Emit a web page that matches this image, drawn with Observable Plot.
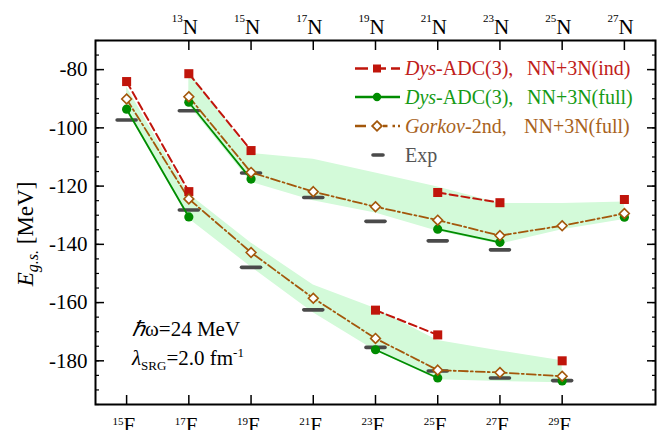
<!DOCTYPE html>
<html><head><meta charset="utf-8">
<script src="https://cdn.jsdelivr.net/npm/d3@7"></script>
<script src="https://cdn.jsdelivr.net/npm/@observablehq/plot@0.6"></script>
<style>body{margin:0;background:#fff} #chart svg{display:block} #chart svg text{font-family:'Liberation Serif','Times New Roman',serif}</style>
</head><body><div id="chart"></div><script>
// ---- data ----
const fPos  = [0, 1, 2, 3, 4, 5, 6, 7];
const fMass = ["15","17","19","21","23","25","27","29"];
const nPos  = [1, 2, 3, 4, 5, 6, 7, 8];
const nMass = ["13","15","17","19","21","23","25","27"];

// Fluorine chain (15F..29F)
const fInd    = [-84.1, -121.9, null, null, -162.6, -171.1, null, -180.0];
const fFull   = [-93.6, -130.6, null, null, -176.2, -185.9, null, -186.9];
const fGork   = [-90.1, -124.4, -142.8, -158.5, -172.3, -183.2, -184.0, -185.3];
const fExp    = [-97.3, -128.2, -147.9, -162.5, -175.4, -183.5, -185.9, -186.8];
const fBandHi = [-86.0, -122.7, -139.5, -154.0, -162.0, -173.0, -176.6, -180.0];
const fBandLo = [-94.0, -131.2, -147.8, -163.5, -176.5, -186.5, -187.1, -187.5];

// Nitrogen chain (13N..27N)
const nInd    = [-81.4, -107.8, null, null, -122.2, -125.7, null, -124.6];
const nFull   = [-91.2, -117.6, null, null, -134.8, -139.3, null, -130.7];
const nGork   = [-89.3, -115.3, -121.9, -127.1, -131.7, -137.0, -133.6, -129.4];
const nExp    = [-94.1, -115.5, -123.9, -132.1, -138.8, -141.9, null, null];
const nBandHi = [-80.5, -108.8, -110.8, -115.5, -120.3, -126.0, -126.0, -125.5];
const nBandLo = [-92.2, -118.7, -125.0, -129.2, -135.5, -140.0, -135.0, -131.5];

const yMajor = [-180, -160, -140, -120, -100, -80];
const yMinor = d3.range(-195, -69, 5);

const legendItalic = ["Dys", "Dys", "Gorkov", ""];
const legendRest   = ["-ADC(3),", "-ADC(3),", "-2nd,", "Exp"];
const legendTail   = ["NN+3N(ind)", "NN+3N(full)", "NN+3N(full)", ""];

// ---- styles ----
const serif = "'Liberation Serif','Times New Roman',serif";
const C = {ind: "#c0150b", full: "#008c00", gork: "#a3570b", exp: "#4a4a4a", band: "#d3fad9"};
const T = {ind: "#c0201a", full: "#159a15", gork: "#a8621c", exp: "#555555"};

const fRows = fPos.map((x, i) => ({x, ind: fInd[i], full: fFull[i], gork: fGork[i], exp: fExp[i], hi: fBandHi[i], lo: fBandLo[i]}));
const nRows = nPos.map((x, i) => ({x, ind: nInd[i], full: nFull[i], gork: nGork[i], exp: nExp[i], hi: nBandHi[i], lo: nBandLo[i]}));

const expSymbol = {draw(ctx) { ctx.moveTo(-9.5, 0); ctx.lineTo(9.5, 0); }};

function chainMarks(rows) {
  return [
    Plot.dot(rows, {x: "x", y: "exp", symbol: expSymbol, stroke: C.exp, strokeWidth: 3.6, fill: "none", strokeLinecap: "round"}),
    Plot.line(rows, {x: "x", y: "ind", stroke: C.ind, strokeWidth: 2, strokeDasharray: "8,4"}),
    Plot.line(rows, {x: "x", y: "full", stroke: C.full, strokeWidth: 1.8}),
    Plot.line(rows, {x: "x", y: "gork", stroke: C.gork, strokeWidth: 1.8, strokeDasharray: "9,3,2,3"}),
    Plot.dot(rows, {x: "x", y: "ind", symbol: "square", r: 5.1, fill: C.ind, stroke: null}),
    Plot.dot(rows, {x: "x", y: "full", symbol: "circle", r: 4.6, fill: C.full, stroke: null}),
    Plot.dot(rows, {x: "x", y: "gork", symbol: "diamond2", r: 4.4, fill: "white", stroke: C.gork, strokeWidth: 1.6})
  ];
}

const plot = Plot.plot({
  width: 668, height: 430,
  marginLeft: 95, marginRight: 13, marginTop: 40, marginBottom: 26,
  style: {fontFamily: serif, background: "white", color: "black", overflow: "visible"},
  x: {domain: [-0.5, 8.5], label: null},
  y: {domain: [-195, -70], label: null},
  marks: [
    Plot.areaY(fRows, {x: "x", y1: "lo", y2: "hi", fill: C.band}),
    Plot.areaY(nRows, {x: "x", y1: "lo", y2: "hi", fill: C.band}),
    ...chainMarks(fRows),
    ...chainMarks(nRows),
    Plot.frame({stroke: "black", strokeWidth: 2}),
    Plot.axisY({anchor: "left", ticks: yMajor, tickSize: 0, tickPadding: 8, tickFormat: d => String(d), fontSize: 21, fontFamily: serif, label: null}),
    Plot.axisY({anchor: "left", ticks: yMajor, tickSize: -9, strokeWidth: 1.5, tickFormat: () => "", label: null}),
    Plot.axisY({anchor: "left", ticks: yMinor, tickSize: -4, strokeWidth: 1.2, tickFormat: () => "", label: null}),
    Plot.axisY({anchor: "right", ticks: yMajor, tickSize: -9, strokeWidth: 1.5, tickFormat: () => "", label: null}),
    Plot.axisY({anchor: "right", ticks: yMinor, tickSize: -4, strokeWidth: 1.2, tickFormat: () => "", label: null}),
    Plot.axisX({anchor: "top", ticks: nPos, tickSize: -9, strokeWidth: 1.5, tickFormat: () => "", label: null}),
    Plot.axisX({anchor: "bottom", ticks: fPos, tickSize: -9, strokeWidth: 1.5, tickFormat: () => "", label: null}),
    Plot.text(nPos, {x: d => d, text: () => "N", frameAnchor: "top", textAnchor: "start", lineAnchor: "bottom", dx: -6, dy: -7, fontSize: 21, fontFamily: serif}),
    Plot.text(nPos, {x: d => d, text: (d, i) => nMass[i], frameAnchor: "top", textAnchor: "end", lineAnchor: "bottom", dx: -6, dy: -19, fontSize: 11, fontFamily: serif}),
    Plot.text(fPos, {x: d => d, text: () => "F", frameAnchor: "bottom", textAnchor: "start", lineAnchor: "bottom", dx: -3, dy: 27, fontSize: 21, fontFamily: serif}),
    Plot.text(fPos, {x: d => d, text: (d, i) => fMass[i], frameAnchor: "bottom", textAnchor: "end", lineAnchor: "bottom", dx: -3, dy: 20, fontSize: 11, fontFamily: serif})
  ]
});

document.getElementById("chart").appendChild(plot);
const svg = d3.select(plot);

// y-axis title
const yl = svg.append("text").attr("transform", "translate(33,234) rotate(-90)")
  .attr("text-anchor", "middle").style("font-family", serif).style("font-size", "23px").attr("fill", "black");
yl.append("tspan").attr("font-style", "italic").text("E");
yl.append("tspan").attr("font-style", "italic").attr("font-size", "16px").attr("dy", 5).text("g.s.");
yl.append("tspan").attr("dy", -5).text(" [MeV]");

// annotations
const a1 = svg.append("text").attr("x", 132).attr("y", 336).attr("text-anchor", "start").style("font-family", serif).style("font-size", "21px").attr("fill", "black");
a1.append("tspan").attr("font-style", "italic").text("ℏ");
a1.append("tspan").text("ω=24 MeV");
const a2 = svg.append("text").attr("x", 132).attr("y", 365).attr("text-anchor", "start").style("font-family", serif).style("font-size", "21px").attr("fill", "black");
a2.append("tspan").attr("font-style", "italic").text("λ");
a2.append("tspan").attr("font-size", "13px").attr("dy", 5).text("SRG");
a2.append("tspan").attr("dy", -5).text("=2.0 fm");
a2.append("tspan").attr("font-size", "13px").attr("dy", -8).text("-1");

// legend
const lgY = [68.5, 97, 126, 155];
const lgColor = [C.ind, C.full, C.gork, C.exp];
const lgText = [T.ind, T.full, T.gork, T.exp];
const lgDash = ["13,5", null, "11,5,2.5,3", null];
const lg = svg.append("g").attr("text-anchor", "start").style("font-family", serif).style("font-size", "20px");
[0, 1, 2].forEach(i => {
  lg.append("line").attr("x1", 355).attr("x2", 400).attr("y1", lgY[i]).attr("y2", lgY[i])
    .attr("stroke", lgColor[i]).attr("stroke-width", 2.4).attr("stroke-dasharray", lgDash[i]);
});
lg.append("path").attr("d", d3.symbol(d3.symbolSquare, 64)()).attr("transform", `translate(377,${lgY[0]})`).attr("fill", C.ind);
lg.append("path").attr("d", d3.symbol(d3.symbolCircle, 55)()).attr("transform", `translate(377,${lgY[1]})`).attr("fill", C.full);
lg.append("rect").attr("x", 371).attr("y", lgY[2] - 6).attr("width", 12).attr("height", 12).attr("fill", "white");
lg.append("path").attr("d", d3.symbol(d3.symbolDiamond2, 60)()).attr("transform", `translate(377,${lgY[2]})`).attr("fill", "white").attr("stroke", C.gork).attr("stroke-width", 1.8);
lg.append("line").attr("x1", 373).attr("x2", 383).attr("y1", lgY[3]).attr("y2", lgY[3]).attr("stroke", C.exp).attr("stroke-width", 3.6).attr("stroke-linecap", "round");
const tailX = [527, 527, 524];
[0, 1, 2, 3].forEach(i => {
  const t = lg.append("text").attr("x", 405).attr("y", lgY[i] + 6.5).attr("text-anchor", "start").attr("fill", lgText[i]);
  if (legendItalic[i]) t.append("tspan").attr("font-style", "italic").text(legendItalic[i]);
  t.append("tspan").text(legendRest[i]);
  if (legendTail[i]) lg.append("text").attr("x", tailX[i]).attr("y", lgY[i] + 6.5).attr("text-anchor", "start").attr("fill", lgText[i]).text(legendTail[i]);
});
</script></body></html>
